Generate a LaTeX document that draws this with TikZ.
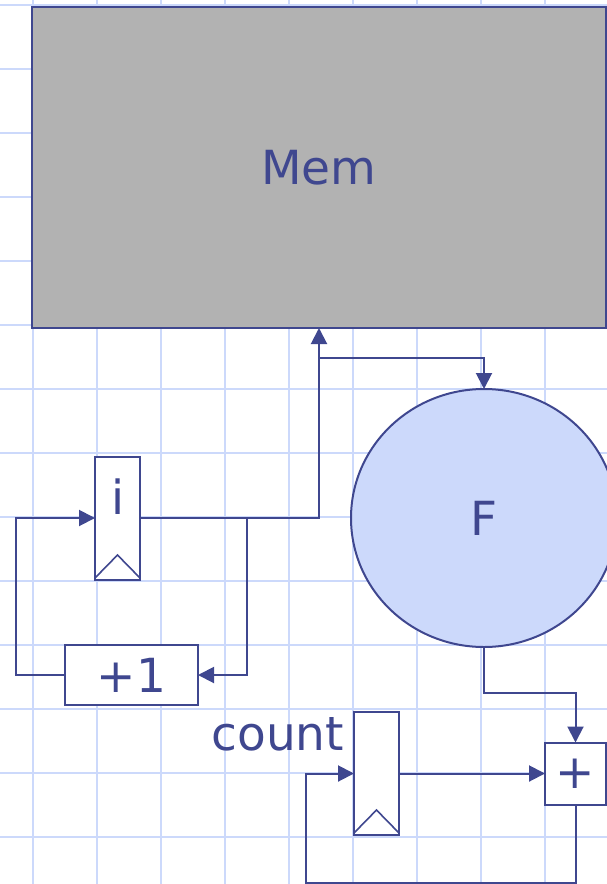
\documentclass[tikz,border=0pt]{standalone}
\usepackage{xcolor}
\usepackage{fontspec}
\setmainfont{DejaVu Sans}
\usetikzlibrary{arrows.meta,shapes.geometric}
\definecolor{inkblue}{HTML}{3F478F}
\definecolor{gridblue}{HTML}{CCD9FB}
\definecolor{memgray}{HTML}{B2B2B2}
\tikzset{
  every node/.style={text=inkblue,inner sep=0pt,outer sep=0pt,font=\fontsize{47}{50}\selectfont},
  box/.style={draw=inkblue,line width=2pt,fill=white},
  reg/.style={box,minimum width=45pt,minimum height=123pt},
  wire/.style={draw=inkblue,line width=2pt},
  arrow/.style={wire,-{Triangle[length=16pt,width=16pt]}},
}

\begin{document}
\begin{tikzpicture}[x=1pt,y=-1pt]
\useasboundingbox (0,0) rectangle (607,884);

% paper grid
\foreach \x in {33,97,...,545}
  \draw[gridblue,line width=2pt] (\x,0) -- (\x,884);
\foreach \y in {5,69,...,837}
  \draw[gridblue,line width=2pt] (0,\y) -- (607,\y);

\node[box,fill=memgray,minimum width=574pt,minimum height=321pt] (Mem) at (319,167.5) {Mem};
\node[box,fill=gridblue,ellipse,minimum width=266pt,minimum height=258pt] (F) at (484,518) {F};

\node[reg] (I) at (117.5,518) {};
\node (LabelI) at (118,497) {i};
\draw[wire,line width=1.6pt] (95,578) -- (117.5,555) -- (140,578);

\node[box,minimum width=133pt,minimum height=60pt] (Inc) at (131.5,675) {+1};

\node[reg] (Count) at (376.5,773.5) {};
\node[anchor=base east] (LabelCount) at (344,750) {count};
\draw[wire,line width=1.6pt] (354,833) -- (376.5,810) -- (399,833);

\node[box,minimum width=61pt,minimum height=62pt] (Add) at (575.5,773.5) {+};

\coordinate (LeftI) at (16,518);
\coordinate (RightI) at (247,518);
\coordinate (TapF) at (319,358);
\coordinate (BendF) at (575.5,693);
\coordinate (LeftCount) at (306,773.5);
\coordinate (Bottom) at (575.5,883);

\draw[arrow] (I.east) -| (Mem.south);
\draw[arrow] (TapF) -| (F.north);
\draw[arrow] (RightI) |- (Inc.east);
\draw[arrow] (Inc.west) -| (LeftI) -- (I.west);

\draw[arrow] (F.south) |- (BendF) -- (Add.north);
\draw[arrow] (Count.east) -- (Add.west);
\draw[arrow] (Add.south) -- (Bottom) -| (LeftCount) -- (Count.west);
\end{tikzpicture}
\end{document}
